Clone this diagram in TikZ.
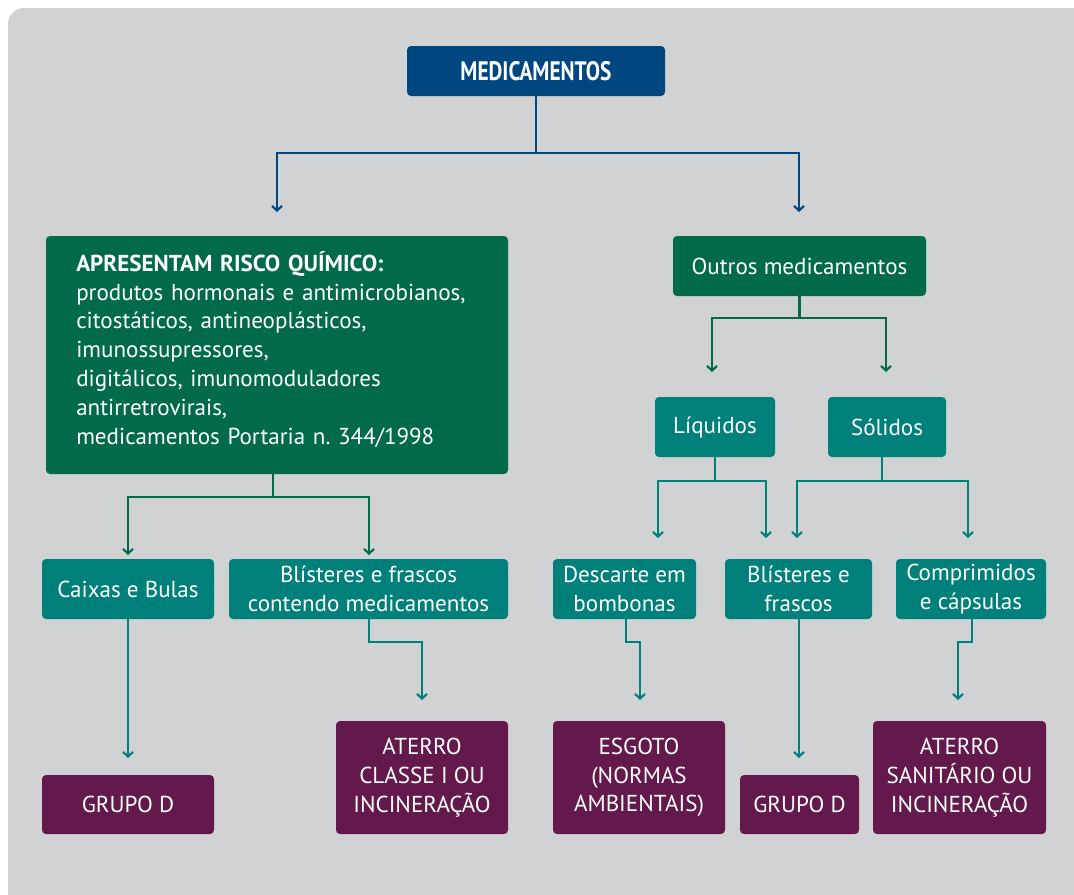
\documentclass[tikz,border=0pt]{standalone}
\usepackage{fontspec}
\setmainfont{PT Sans}
\newfontfamily\condfont[FakeStretch=0.8]{PT Sans}
\usetikzlibrary{arrows.meta,calc}
\definecolor{bgc}{HTML}{D1D2D4}
\definecolor{medblue}{HTML}{00467F}
\definecolor{dkgreen}{HTML}{006A4B}
\definecolor{tealc}{HTML}{00807A}
\definecolor{purp}{HTML}{63194B}
\tikzset{
  sz/.style 2 args={minimum width=#1*0.75pt, minimum height=#2*0.75pt},
  base/.style={rounded corners=3pt, text=white, inner sep=0pt, align=center,
    font=\fontsize{17.3}{21.6}\selectfont},
  bluebox/.style={base, fill=medblue},
  greenbox/.style={base, fill=dkgreen},
  tealbox/.style={base, fill=tealc},
  purpbox/.style={base, fill=purp},
  conn/.style={line width=1.6pt, -{Straight Barb[length=3.5pt,width=7.5pt,line width=1.6pt]}},
  blueconn/.style={conn, draw=medblue},
  greenconn/.style={conn, draw=dkgreen},
  tealconn/.style={conn, draw=tealc},
}
\begin{document}
\begin{tikzpicture}[x=0.75pt,y=-0.75pt]
\useasboundingbox (0,0) rectangle (1074,894);
\fill[bgc, rounded corners=12pt] (8,8) rectangle (1100,920);

% nodes
\node[bluebox, sz={258}{50}, font=\condfont\bfseries\fontsize{20}{22}\selectfont] (med) at (536,71) {MEDICAMENTOS};
\node[greenbox, sz={462}{238}] (risk) at (277,355) {};
\node[base, align=left, text width=402*0.75pt, anchor=north west] (risktxt) at (76,251)
  {\textbf{APRESENTAM RISCO QUÍMICO:}\\
   produtos hormonais e antimicrobianos,\\
   citostáticos, antineoplásticos,\\
   imunossupressores,\\
   digitálicos, imunomoduladores\\
   antirretrovirais,\\
   medicamentos Portaria n.\ 344/1998};
\node[greenbox, sz={253}{60}] (outros) at (799.5,266) {Outros medicamentos};
\node[tealbox, sz={172}{60}] (caixas) at (128,589) {Caixas e Bulas};
\node[tealbox, sz={279}{60}] (blist1) at (368.5,589) {Blísteres e frascos\\contendo medicamentos};
\node[tealbox, sz={120}{60}] (liq) at (715,427) {Líquidos};
\node[tealbox, sz={118}{60}] (sol) at (887,427) {Sólidos};
\node[tealbox, sz={143}{60}] (desc) at (624.5,589) {Descarte em\\bombonas};
\node[tealbox, sz={147}{60}] (blist2) at (798.5,589) {Blísteres e\\frascos};
\node[tealbox, sz={150}{60}] (comp) at (971,589) {Comprimidos\\e cápsulas};
\node[purpbox, sz={172}{59}] (grupo1) at (128,804.5) {GRUPO D};
\node[purpbox, sz={172}{113}] (aterro1) at (422,777.5) {ATERRO\\CLASSE I OU\\INCINERAÇÃO};
\node[purpbox, sz={172}{113}] (esgoto) at (639,777.5) {ESGOTO\\(NORMAS\\AMBIENTAIS)};
\node[purpbox, sz={119}{59}] (grupo2) at (799.5,804.5) {GRUPO D};
\node[purpbox, sz={173}{113}] (aterro2) at (959.5,777.5) {ATERRO\\SANITÁRIO OU\\INCINERAÇÃO};

% connector end points
\coordinate (t1) at (277,212);
\coordinate (t2) at (799,212);
\coordinate (r0) at (273,474);
\coordinate (r1) at (128,555);
\coordinate (r2) at (369,555);
\coordinate (o1) at (712,372);
\coordinate (o2) at (886,372);
\coordinate (l0) at (715,457);
\coordinate (l1) at (658,538);
\coordinate (l2) at (766,538);
\coordinate (s0) at (882,457);
\coordinate (s1) at (797,538);
\coordinate (s2) at (968,538);
\coordinate (c1) at (128,758);
\coordinate (b1) at (369,619);
\coordinate (b1t) at (422,700);
\coordinate (d0) at (626,619);
\coordinate (d1) at (640,700);
\coordinate (b20) at (799,619);
\coordinate (b2) at (799,758);
\coordinate (k0) at (972,619);
\coordinate (k1) at (958,700);

% connectors
\draw[blueconn] (med.south) -- ++(0,57) -| (t1);
\draw[blueconn] (med.south) -- ++(0,57) -| (t2);
\draw[greenconn] (r0) -- ++(0,23) -| (r1);
\draw[greenconn] (r0) -- ++(0,23) -| (r2);
\draw[greenconn] (outros.south) -- ++(0,22) -| (o1);
\draw[greenconn] (outros.south) -- ++(0,22) -| (o2);
\draw[tealconn] (l0) -- ++(0,24) -| (l1);
\draw[tealconn] (l0) -- ++(0,24) -| (l2);
\draw[tealconn] (s0) -- ++(0,24) -| (s1);
\draw[tealconn] (s0) -- ++(0,24) -| (s2);
\draw[tealconn] (caixas.south) -- (c1);
\draw[tealconn] (b1) -- ++(0,23) -| (b1t);
\draw[tealconn] (d0) -- ++(0,23) -| (d1);
\draw[tealconn] (b20) -- (b2);
\draw[tealconn] (k0) -- ++(0,23) -| (k1);
\end{tikzpicture}
\end{document}
